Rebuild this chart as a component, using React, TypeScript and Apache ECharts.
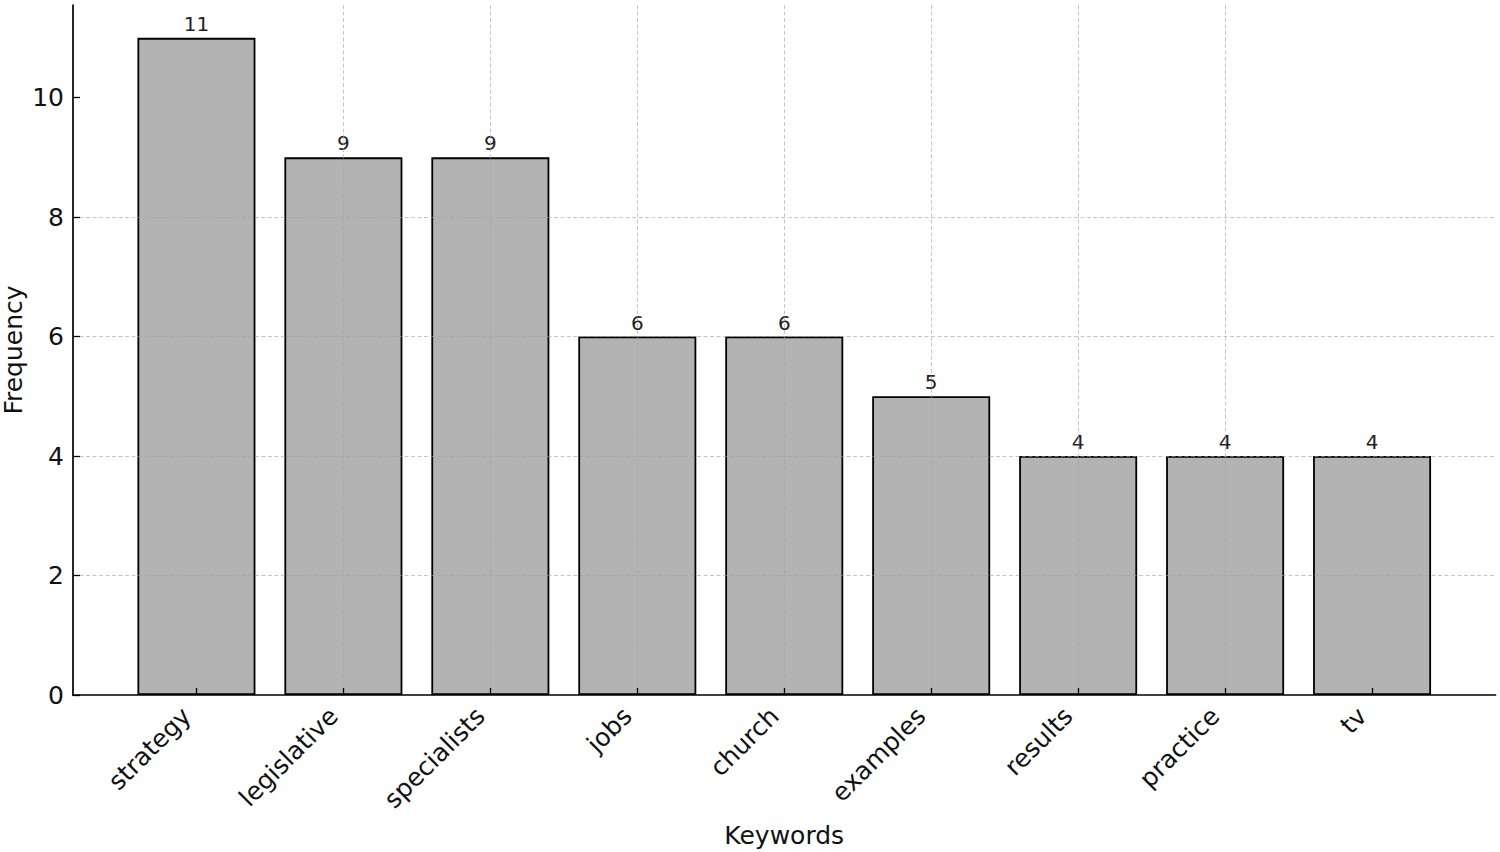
import React, { useEffect, useRef } from "react";
import * as echarts from "echarts";

const categories = ["strategy", "legislative", "specialists", "jobs", "church", "examples", "results", "practice", "tv"];
const frequencies = [11, 9, 9, 6, 6, 5, 4, 4, 4];
const yTicks = [0, 2, 4, 6, 8, 10];
const xTicks = [0, 1, 2, 3, 4, 5, 6, 7, 8];

const FONT = "DejaVu Sans";

export default function App() {
  const ref = useRef<HTMLDivElement>(null);
  useEffect(() => {
    document.body.style.margin = "0";
    const chart = echarts.init(ref.current!, null, { renderer: "svg" });
    const gridLine = { show: true, lineStyle: { color: "rgba(160,160,160,0.6)", width: 1, type: [4, 2.5] as any } };
    chart.setOption({
      animation: false,
      backgroundColor: "#ffffff",
      grid: { left: 73, right: 4.5, top: 5, bottom: 157, containLabel: false, outerBoundsMode: "none" },
      xAxis: {
        type: "value",
        min: -0.84,
        max: 8.84,
        z: 3,
        name: "Keywords",
        nameLocation: "middle",
        nameGap: 128,
        nameMoveOverlap: false,
        nameTextStyle: { fontFamily: FONT, fontSize: 25, color: "#111" },
        axisLine: { show: true, onZero: false, lineStyle: { color: "#000", width: 1.7 } },
        axisTick: { show: true, inside: true, length: 7, lineStyle: { color: "#000", width: 1.3 }, customValues: xTicks },
        axisLabel: {
          customValues: xTicks,
          rotate: 45,
          margin: 7,
          padding: [0, 14, 0, 0],
          fontFamily: FONT,
          fontSize: 25,
          color: "#111",
          formatter: (v: number) => categories[Math.round(v)] ?? "",
        },
        splitLine: { ...gridLine, showMinLine: false, showMaxLine: false },
      },
      yAxis: {
        type: "value",
        min: 0,
        max: 11.55,
        z: 3,
        name: "Frequency",
        nameLocation: "middle",
        nameGap: 47,
        nameMoveOverlap: false,
        nameTextStyle: { fontFamily: FONT, fontSize: 25, color: "#111" },
        axisLine: { show: true, onZero: false, lineStyle: { color: "#000", width: 1.7 } },
        axisTick: { show: true, inside: true, length: 7, lineStyle: { color: "#000", width: 1.3 }, customValues: yTicks },
        axisLabel: { customValues: yTicks, margin: 9, fontFamily: FONT, fontSize: 25, color: "#111" },
        splitLine: { ...gridLine, showMinLine: false, showMaxLine: false },
      },
      series: [
        {
          type: "bar",
          barWidth: 118,
          data: frequencies.map((v, i) => [i, v]),
          itemStyle: { color: "#b3b3b3", borderColor: "#000", borderWidth: 1.8 },
          label: {
            show: true,
            position: "top",
            distance: 4,
            fontFamily: FONT,
            fontSize: 20,
            color: "#222",
            formatter: (p: any) => String(p.value[1]),
          },
        },
      ],
    });
    return () => chart.dispose();
  }, []);
  return <div ref={ref} style={{ width: 1500, height: 852 }} />;
}
